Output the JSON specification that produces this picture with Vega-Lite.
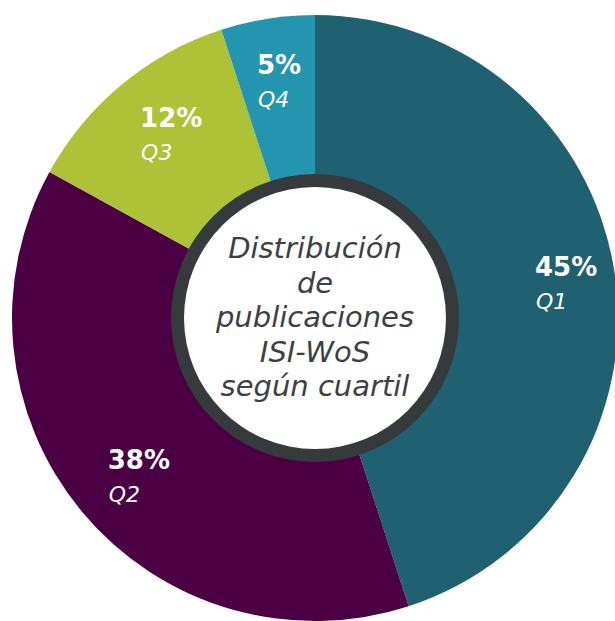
{
  "$schema": "https://vega.github.io/schema/vega-lite/v6.json",
  "width": 630,
  "height": 636,
  "autosize": "none",
  "padding": 0,
  "background": "white",
  "view": {"stroke": null},
  "datasets": {
    "slices": [
      {"q": "Q1", "pct": 45, "label": "45%"},
      {"q": "Q2", "pct": 38, "label": "38%"},
      {"q": "Q3", "pct": 12, "label": "12%"},
      {"q": "Q4", "pct": 5, "label": "5%"}
    ],
    "center": [{"title": "Distribución de publicaciones ISI-WoS según cuartil"}]
  },
  "layer": [
    {
      "data": {"name": "slices"},
      "mark": {"type": "arc", "radius": 303},
      "encoding": {
        "theta": {"field": "pct", "type": "quantitative", "stack": true},
        "color": {"field": "q", "type": "nominal", "scale": {"domain": ["Q1", "Q2", "Q3", "Q4"], "range": ["#1f6170", "#4a0043", "#aec237", "#2495ae"]}, "legend": null},
        "order": {"field": "q", "sort": "ascending"}
      }
    },
    {
      "data": {"name": "slices"},
      "mark": {"type": "text", "radius": 243, "dx": -20, "dy": -12, "font": "DejaVu Sans", "fontSize": 26, "fontWeight": "bold", "fill": "white", "align": "left", "baseline": "middle"},
      "encoding": {
        "theta": {"field": "pct", "type": "quantitative", "stack": true},
        "detail": {"field": "q", "type": "nominal"},
        "order": {"field": "q", "sort": "ascending"},
        "text": {"field": "label", "type": "nominal"}
      }
    },
    {
      "data": {"name": "slices"},
      "mark": {"type": "text", "radius": 243, "dx": -19, "dy": 22, "font": "DejaVu Sans", "fontSize": 22, "fontStyle": "italic", "fill": "white", "align": "left", "baseline": "middle"},
      "encoding": {
        "theta": {"field": "pct", "type": "quantitative", "stack": true},
        "detail": {"field": "q", "type": "nominal"},
        "order": {"field": "q", "sort": "ascending"},
        "text": {"field": "q", "type": "nominal"}
      }
    },
    {
      "data": {"name": "center"},
      "mark": {"type": "arc", "radius": 144, "theta": 0, "theta2": 6.2832, "fill": "#373a3c"},
      "encoding": {}
    },
    {
      "data": {"name": "center"},
      "mark": {"type": "arc", "radius": 131, "theta": 0, "theta2": 6.2832, "fill": "#ffffff"},
      "encoding": {}
    },
    {
      "data": {"name": "center"},
      "mark": {"type": "text", "font": "DejaVu Sans", "fontSize": 29, "fontStyle": "italic", "fill": "#3d4043", "align": "center", "baseline": "middle", "lineHeight": 34.5, "dy": -69, "text": ["Distribución", "de", "publicaciones", "ISI-WoS", "según cuartil"]},
      "encoding": {}
    }
  ]
}
